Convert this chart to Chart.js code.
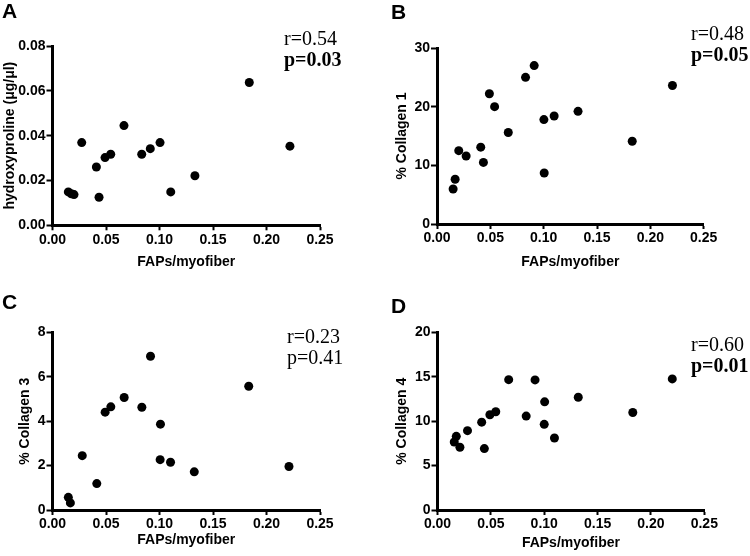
<!DOCTYPE html>
<html>
<head>
<meta charset="utf-8">
<script src="https://cdn.jsdelivr.net/npm/chart.js@4/dist/chart.umd.min.js"></script>
<style>
  html, body { margin: 0; padding: 0; background: #fff; }
  #wrap { position: relative; width: 750px; height: 556px; background: #fff; overflow: hidden; }
  canvas { position: absolute; }
  .letter { position: absolute; font: bold 21px "Liberation Sans", Arial, sans-serif; line-height: 21px; color: #000; }
  .stat { position: absolute; font: 20px "Liberation Serif", "Times New Roman", serif; line-height: 21px; color: #000; white-space: nowrap; }
  .stat b { font-weight: bold; }
</style>
</head>
<body>
<div id="wrap">
  <canvas id="cA" width="375" height="278" style="left:0;top:0"></canvas>
  <canvas id="cB" width="375" height="278" style="left:375px;top:0"></canvas>
  <canvas id="cC" width="375" height="278" style="left:0;top:278px"></canvas>
  <canvas id="cD" width="375" height="278" style="left:375px;top:278px"></canvas>

  <div class="letter" style="left:2px;top:0px">A</div>
  <div class="letter" style="left:391px;top:1px">B</div>
  <div class="letter" style="left:2px;top:291px">C</div>
  <div class="letter" style="left:391px;top:295px">D</div>

  <div class="stat" style="left:284px;top:28px">r=0.54<br><b>p=0.03</b></div>
  <div class="stat" style="left:691px;top:23px">r=0.48<br><b>p=0.05</b></div>
  <div class="stat" style="left:287px;top:326px">r=0.23<br>p=0.41</div>
  <div class="stat" style="left:691px;top:334px">r=0.60<br><b>p=0.01</b></div>
</div>
<script>
// ---------- data ----------
const xTicks = [0, 0.05, 0.10, 0.15, 0.20, 0.25];
const xTitle = "FAPs/myofiber";

// Panel A: hydroxyproline
const faps_A = [0.0148, 0.0176, 0.0201, 0.0273, 0.0410, 0.0435, 0.0491, 0.0544, 0.0668, 0.0834, 0.0914, 0.1005, 0.1105, 0.1331, 0.1839, 0.2219];
const hyp_A  = [0.0149, 0.0141, 0.0137, 0.0369, 0.0260, 0.0125, 0.0302, 0.0317, 0.0445, 0.0317, 0.0342, 0.0369, 0.0149, 0.0221, 0.0637, 0.0353];
const yTicks_A = [0, 0.02, 0.04, 0.06, 0.08];

// Panel B: % Collagen 1
const faps_B = [0.0151, 0.0170, 0.0204, 0.0273, 0.0410, 0.0435, 0.0491, 0.0540, 0.0668, 0.0830, 0.0911, 0.1002, 0.1005, 0.1098, 0.1322, 0.1830, 0.2207];
const col1_B = [5.96, 7.62, 12.5, 11.6, 13.1, 10.5, 22.2, 20.0, 15.6, 25.0, 27.0, 17.8, 8.7, 18.4, 19.2, 14.1, 23.6];
const yTicks_B = [0, 10, 20, 30];

// Panel C: % Collagen 3
const faps_C = [0.0148, 0.0167, 0.0278, 0.0414, 0.0492, 0.0545, 0.0670, 0.0835, 0.0916, 0.1009, 0.1006, 0.1103, 0.1325, 0.1834, 0.2210];
const col3_C = [0.57, 0.32, 2.45, 1.19, 4.41, 4.65, 5.07, 4.63, 6.93, 3.87, 2.27, 2.15, 1.72, 5.58, 1.96];
const yTicks_C = [0, 2, 4, 6, 8];

// Panel D: % Collagen 4
const faps_D = [0.0157, 0.0176, 0.0210, 0.0281, 0.0414, 0.0439, 0.0491, 0.0546, 0.0667, 0.0831, 0.0914, 0.1004, 0.1000, 0.1096, 0.1319, 0.1830, 0.2200];
const col4_D = [7.66, 8.30, 7.07, 8.94, 9.90, 6.92, 10.73, 11.07, 14.69, 10.58, 14.66, 12.19, 9.65, 8.11, 12.71, 10.99, 14.77];
const yTicks_D = [0, 5, 10, 15, 20];

// ---------- drawing ----------
const tickFont = { family: '"Liberation Sans", Arial, sans-serif', size: 14, weight: 'bold' };
const titleFont = { family: '"Liberation Sans", Arial, sans-serif', size: 14, weight: 'bold' };
Chart.defaults.color = '#000';

function makePanel(id, xs, ys, yTicks, yDec, yTitle, area, yTitleX, xTitleY) {
  const H = 278, W = 375;
  const data = xs.map((x, i) => ({ x: x, y: ys[i] }));
  new Chart(document.getElementById(id), {
    type: 'scatter',
    data: { datasets: [{ data: data, backgroundColor: '#000', borderWidth: 0, pointRadius: 4.5, pointHoverRadius: 4.5, clip: false }] },
    options: {
      responsive: false, animation: false, devicePixelRatio: 1,
      layout: { padding: { left: 0, top: area.top, right: W - area.right, bottom: 0 } },
      plugins: { legend: { display: false }, tooltip: { enabled: false } },
      scales: {
        x: {
          type: 'linear', min: 0, max: 0.25,
          afterBuildTicks: s => { s.ticks = xTicks.map(v => ({ value: v })); },
          afterFit: s => { s.height = H - area.bottom; },
          ticks: { font: tickFont, color: '#000', padding: 1, maxRotation: 0, callback: v => Number(v).toFixed(2) },
          grid: { display: true, drawOnChartArea: false, drawTicks: true, tickLength: 5, tickWidth: 2, tickColor: '#000' },
          border: { display: true, color: '#000', width: 3 },
          title: { display: true, text: xTitle, font: titleFont, color: '#000', padding: { top: 0, bottom: H - xTitleY - 8.4 } }
        },
        y: {
          type: 'linear', min: yTicks[0], max: yTicks[yTicks.length - 1],
          afterBuildTicks: s => { s.ticks = yTicks.map(v => ({ value: v })); },
          afterFit: s => { s.width = area.left; },
          ticks: { font: tickFont, color: '#000', padding: 1, callback: v => Number(v).toFixed(yDec) },
          grid: { display: true, drawOnChartArea: false, drawTicks: true, tickLength: 6, tickWidth: 2, tickColor: '#000' },
          border: { display: true, color: '#000', width: 3 },
          title: { display: true, text: yTitle, font: titleFont, color: '#000', padding: { top: yTitleX - 8.4, bottom: 0 } }
        }
      }
    }
  });
}

makePanel('cA', faps_A, hyp_A, yTicks_A, 2, 'hydroxyproline (\u03bcg/\u03bcl)', { left: 52.5, top: 46, right: 320, bottom: 225.3 }, 10, 261.7);
makePanel('cB', faps_B, col1_B, yTicks_B, 0, '% Collagen 1', { left: 62, top: 48, right: 328.7, bottom: 224 }, 27, 261.7);
makePanel('cC', faps_C, col3_C, yTicks_C, 0, '% Collagen 3', { left: 52.5, top: 54.5, right: 320, bottom: 232 }, 25, 261.7);
makePanel('cD', faps_D, col4_D, yTicks_D, 0, '% Collagen 4', { left: 62.5, top: 54.5, right: 329.3, bottom: 232 }, 27, 265);
</script>
</body>
</html>
